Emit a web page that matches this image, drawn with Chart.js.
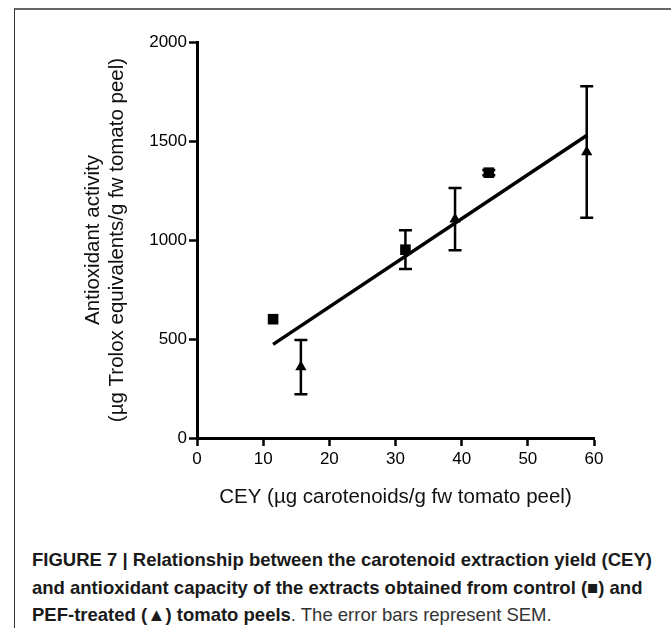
<!doctype html>
<html>

<head>
	<title>CEY vs antioxidant activity</title>
	<script src="https://cdn.jsdelivr.net/npm/chart.js@4/dist/chart.umd.min.js"></script>
	<style>
	html, body {
		margin: 0;
		padding: 0;
		background: #fff;
	}
	.page {
		position: relative;
		width: 671px;
		height: 628px;
		overflow: hidden;
	}
	.frame {
		position: absolute;
		left: 14px;
		top: 8px;
		width: 656px;
		height: 640px;
		border-top: 2px solid #666;
		border-left: 1.5px solid #333;
		border-right: 1.5px solid #333;
	}
	canvas {
		position: absolute;
		left: 0;
		top: 0;
	}
	.caption {
		position: absolute;
		left: 32px;
		top: 546px;
		font-family: 'Liberation Sans', Arial, sans-serif;
		font-size: 18.5px;
		line-height: 27.5px;
		color: #1a1a1a;
		white-space: nowrap;
	}
	.caption b {
		font-weight: bold;
	}
	.caption span {
		color: #333;
	}
	</style>
</head>

<body>
	<div class="page">
		<div class="frame"></div>
		<canvas id="chart" width="671" height="520"></canvas>
		<div class="caption">
			<b>FIGURE 7 | Relationship between the carotenoid extraction yield (CEY)</b><br>
			<b>and antioxidant capacity of the extracts obtained from control (&#9632;) and</b><br>
			<b>PEF-treated (&#9650;) tomato peels</b><span>. The error bars represent SEM.</span>
		</div>
	</div>
	<script>
		// control extracts (squares)
		var controlX = [11.5, 31.5, 44.1];
		var controlY = [600, 951, 1340];
		var controlErr = [0, 98, 13];

		// PEF-treated extracts (triangles)
		var pefX = [15.7, 39.0, 58.9];
		var pefY = [358, 1105, 1445];
		var pefErr = [137, 157, 332];

		// linear fit end points
		var fitX = [11.5, 59.0];
		var fitY = [473, 1530];

		var xTicks = [0, 10, 20, 30, 40, 50, 60];
		var yTicks = [0, 500, 1000, 1500, 2000];

		var xTitle = 'CEY (\u00b5g carotenoids/g fw tomato peel)';
		var yTitle = ['Antioxidant activity', '(\u00b5g Trolox equivalents/g fw tomato peel)'];

		function pts(xs, ys) {
			return xs.map(function(x, i) {
				return {x: x, y: ys[i]};
			});
		}

		var sans = "'Liberation Sans', Arial, sans-serif";

		var errorBars = {
			id: 'errorBars',
			afterDatasetsDraw: function(chart) {
				var ctx = chart.ctx;
				var yScale = chart.scales.y;
				chart.data.datasets.forEach(function(ds, i) {
					if (!ds.errors) {
						return;
					}
					var meta = chart.getDatasetMeta(i);
					meta.data.forEach(function(el, j) {
						var v = ds.data[j].y;
						var e = ds.errors[j];
						if (!e) {
							return;
						}
						var top = yScale.getPixelForValue(v + e);
						var bot = yScale.getPixelForValue(v - e);
						var x = el.x;
						ctx.save();
						ctx.strokeStyle = '#000';
						ctx.lineWidth = 2.5;
						ctx.beginPath();
						ctx.moveTo(x, top);
						ctx.lineTo(x, bot);
						ctx.moveTo(x - 6.5, top);
						ctx.lineTo(x + 6.5, top);
						ctx.moveTo(x - 6.5, bot);
						ctx.lineTo(x + 6.5, bot);
						ctx.stroke();
						ctx.restore();
					});
				});
			}
		};

		var axisFont = {family: sans, size: 17};
		var titleFont = {family: sans, size: 20.5, lineHeight: 1.17};

		function plain(v) {
			return String(v);
		}

		window.onload = function() {
			var ctx = document.getElementById('chart').getContext('2d');
			new Chart(ctx, {
				type: 'scatter',
				data: {
					datasets: [{
						label: 'fit',
						data: pts(fitX, fitY),
						showLine: true,
						borderColor: '#000',
						borderWidth: 3.5,
						pointRadius: 0,
						fill: false
					}, {
						label: 'control',
						data: pts(controlX, controlY),
						errors: controlErr,
						pointStyle: 'rect',
						pointRadius: 7.5,
						backgroundColor: '#000',
						borderColor: '#000',
						borderWidth: 0
					}, {
						label: 'PEF',
						data: pts(pefX, pefY),
						errors: pefErr,
						pointStyle: 'triangle',
						pointRadius: 6.5,
						backgroundColor: '#000',
						borderColor: '#000',
						borderWidth: 0
					}]
				},
				options: {
					responsive: false,
					animation: false,
					clip: false,
					layout: {
						padding: {left: 81, top: 42, right: 77, bottom: 11}
					},
					plugins: {
						legend: {display: false},
						tooltip: {enabled: false}
					},
					scales: {
						x: {
							type: 'linear',
							min: 0,
							max: 60,
							afterBuildTicks: function(scale) {
								scale.ticks = xTicks.map(function(v) { return {value: v}; });
							},
							afterFit: function(scale) {
								scale.height = 71;
							},
							ticks: {
								color: '#000',
								font: axisFont,
								padding: 3,
								callback: plain
							},
							grid: {
								drawOnChartArea: false,
								drawTicks: true,
								tickLength: 8,
								tickWidth: 2.5,
								tickColor: '#000'
							},
							border: {color: '#000', width: 3},
							title: {
								display: true,
								text: xTitle,
								color: '#111',
								font: titleFont,
								padding: 0
							}
						},
						y: {
							type: 'linear',
							min: 0,
							max: 2000,
							afterBuildTicks: function(scale) {
								scale.ticks = yTicks.map(function(v) { return {value: v}; });
							},
							afterFit: function(scale) {
								scale.width = 116;
							},
							ticks: {
								color: '#000',
								font: axisFont,
								padding: 2,
								callback: plain
							},
							grid: {
								drawOnChartArea: false,
								drawTicks: true,
								tickLength: 8,
								tickWidth: 2.5,
								tickColor: '#000'
							},
							border: {color: '#000', width: 3},
							title: {
								display: true,
								text: yTitle,
								color: '#111',
								font: titleFont,
								padding: 0
							}
						}
					}
				},
				plugins: [errorBars]
			});
		};
	</script>
</body>

</html>
